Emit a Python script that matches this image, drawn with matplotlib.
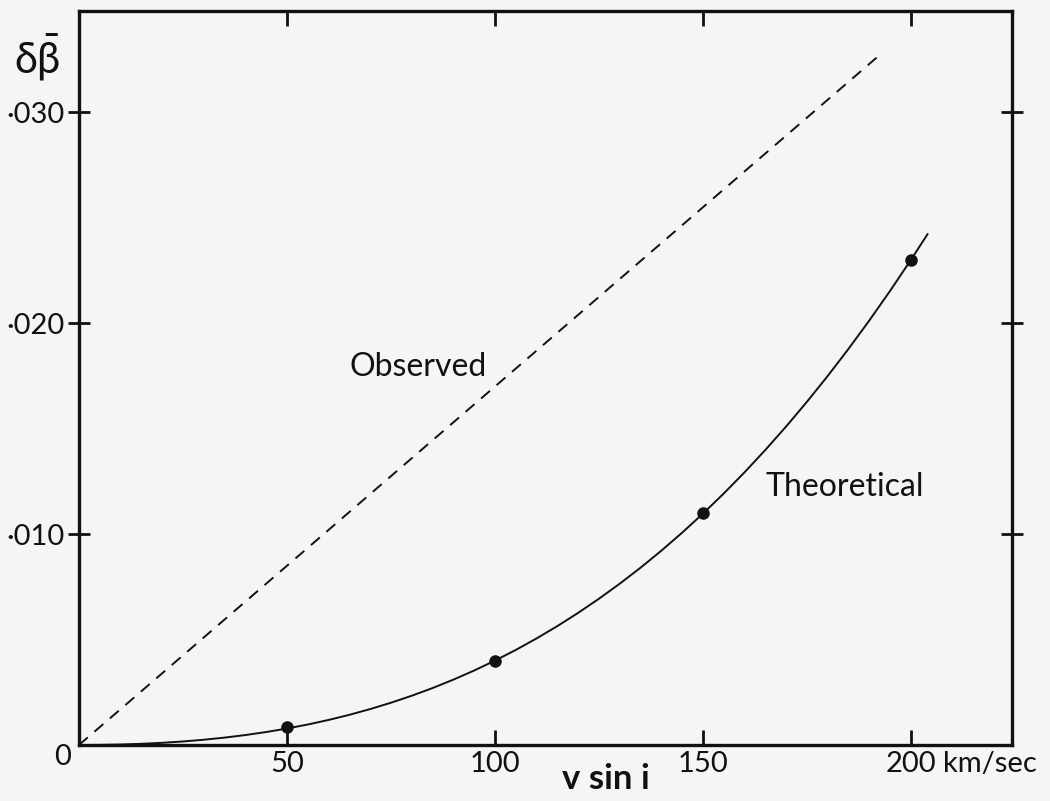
import matplotlib
matplotlib.use('Agg')
import matplotlib.pyplot as plt

# Theoretical curve
theo_v = [0, 5, 10, 15, 20, 25, 30, 35, 40, 45, 50, 55, 60, 65, 70, 75, 80,
          85, 90, 95, 100, 105, 110, 115, 120, 125, 130, 135, 140, 145, 150,
          155, 160, 165, 170, 175, 180, 185, 190, 195, 200, 204]
theo_db = [0.0, 0.000006, 0.000024, 0.000057, 0.000104, 0.000168, 0.00025,
           0.000351, 0.000472, 0.000615, 0.000781, 0.000972, 0.001188,
           0.001431, 0.001703, 0.002004, 0.002336, 0.0027, 0.003098,
           0.003531, 0.004, 0.004506, 0.005052, 0.005637, 0.006264,
           0.006934, 0.007647, 0.008406, 0.009212, 0.010066, 0.010969,
           0.011922, 0.012928, 0.013987, 0.0151, 0.01627, 0.017496,
           0.018781, 0.020126, 0.021531, 0.023, 0.024219]

# Computed points on the theoretical curve
pts_v = [50, 100, 150, 200]
pts_db = [0.00085, 0.0040, 0.0110, 0.0230]

# Observed (dashed straight line)
obs_v = [0, 193]
obs_db = [0.0, 0.0328]

xticks = [50, 100, 150, 200]
yticks = [0.010, 0.020, 0.030]
ytick_labels = ['·010', '·020', '·030']

plt.rcParams['font.family'] = ['Lato', 'DejaVu Sans']
plt.rcParams['mathtext.default'] = 'regular'

fig = plt.figure(figsize=(10.5, 8.01), dpi=100, facecolor='#f5f5f4')
ax = fig.add_axes([0.0752, 0.0699, 0.8886, 0.9164])
ax.set_facecolor('#f5f5f4')

ax.plot(theo_v, theo_db, color='#111111', linewidth=1.4)
ax.plot(pts_v, pts_db, 'o', color='#111111', markersize=8)
ax.plot(obs_v, obs_db, color='#111111', linewidth=1.4, dashes=(6, 4.5))

ax.set_xlim(0, 224.3)
ax.set_ylim(0, 0.0348)

for s in ax.spines.values():
    s.set_linewidth(2.4)
    s.set_color('#111111')

ax.set_xticks(xticks)
ax.set_xticklabels([str(t) for t in xticks])
ax.set_yticks(yticks)
ax.set_yticklabels(ytick_labels)
ax.tick_params(axis='both', direction='in', length=11, width=2.0,
               top=True, right=True, labelsize=21, colors='#111111')
ax.tick_params(axis='x', pad=4)
ax.tick_params(axis='y', direction='inout', length=16, pad=2)

# origin label, units, axis labels
fig.text(63 / 1050, 1 - 757 / 801, '0', fontsize=21, ha='center', va='center',
         color='#111111')
fig.text(943 / 1050, 1 - 764 / 801, 'km/sec', fontsize=21, ha='left',
         va='center', color='#111111')
fig.text(606 / 1050, 1 - 779 / 801, 'v sin i', fontsize=25, ha='center',
         va='center', color='#111111', fontweight='bold')
fig.text(37 / 1050, 1 - 58 / 801, r'$\delta\bar{\beta}$', fontsize=30,
         ha='center', va='center', color='#111111')

fig.text(418 / 1050, 1 - 367 / 801, 'Observed', fontsize=23, ha='center',
         va='center', color='#111111')
fig.text(845 / 1050, 1 - 487 / 801, 'Theoretical', fontsize=23, ha='center',
         va='center', color='#111111')

fig.savefig('out.png', dpi=100, facecolor=fig.get_facecolor())
